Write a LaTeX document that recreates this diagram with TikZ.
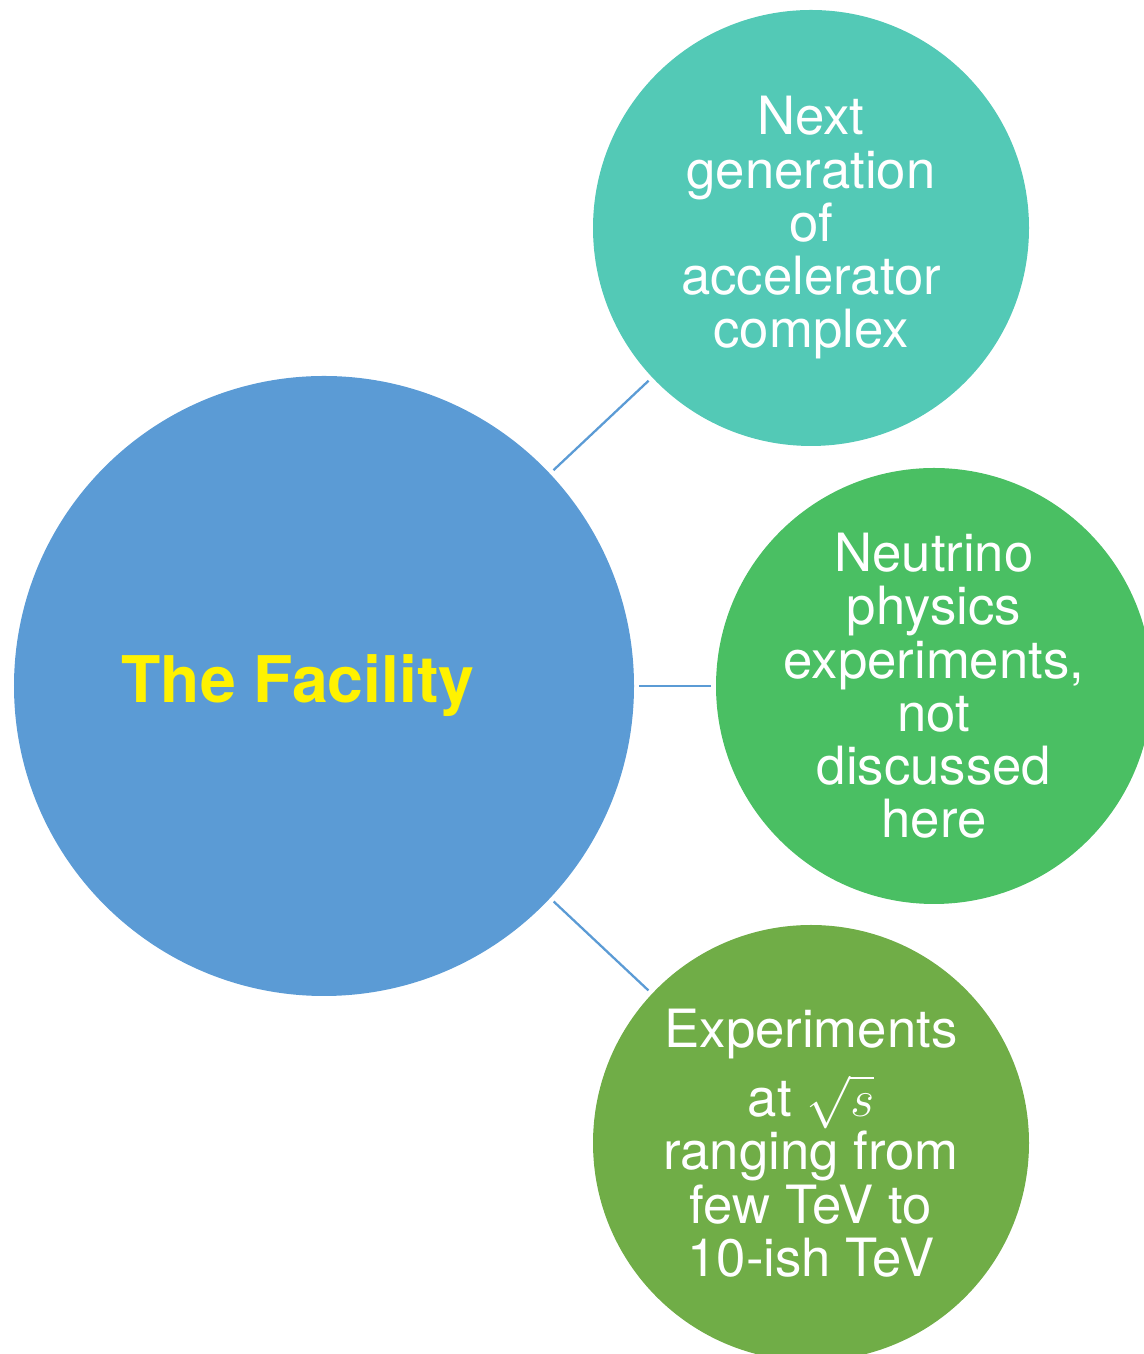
\documentclass[tikz,border=0pt]{standalone}
\usepackage{amsmath}
\usepackage{graphicx}
\usepackage{fontspec}
\setmainfont{TeX Gyre Heros}
\usepackage{xcolor}
\usepackage{tikz}
\usetikzlibrary{positioning}

\definecolor{facblue}{HTML}{5B9BD5}
\definecolor{acccyan}{HTML}{53C9B6}
\definecolor{nugreen}{HTML}{4ABF63}
\definecolor{expgreen}{HTML}{70AD47}

\begin{document}
\begin{tikzpicture}[
  bub/.style={circle,inner sep=0pt,outer sep=1mm,minimum size=8.72cm,
    align=center,text=white,font=\fontsize{30}{30.3}\selectfont},
  link/.style={draw=facblue,line width=1.3pt}]
\useasboundingbox (0,0) rectangle (22.86,27.08);
% central circle
\node[circle,fill=facblue,minimum size=12.4cm,inner sep=0pt,outer sep=1mm] (fac) at (6.48,13.36) {};
\node[font=\fontsize{36.6}{36}\selectfont\bfseries,text=yellow] (title) at ([xshift=-5.2mm]fac.center) {The Facility};
% satellites
\node[bub,fill=acccyan] (acc) at (16.22,22.52) {Next\\generation\\of\\accelerator\\complex};
\node[bub,fill=nugreen] (nu) at (18.68,13.36) {Neutrino\\physics\\experiments,\\not\\discussed\\here};
\node[bub,fill=expgreen] (exp) at (16.22,4.22) {Experiments\\[8pt]at \scalebox{1.2}{$\sqrt{s}$}\\ranging from\\few TeV to\\10-ish TeV};
\draw[link] (fac) -- (acc);
\draw[link] (fac) -- (nu);
\draw[link] (fac) -- (exp);
\end{tikzpicture}
\end{document}
